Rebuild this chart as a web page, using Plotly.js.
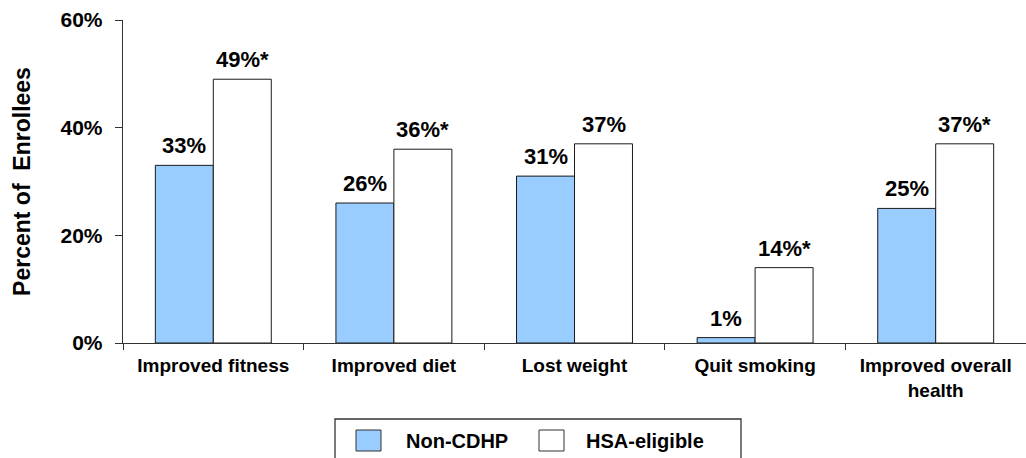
<!DOCTYPE html>
<html>
<head>
<meta charset="utf-8">
<script src="https://cdn.plot.ly/plotly-3.0.1.min.js"></script>
<style>
  html, body { margin: 0; padding: 0; background: #fff; }
  #chart { width: 1026px; height: 458px; }
</style>
</head>
<body>
<div id="chart"></div>
<script>
// Health behaviour changes reported by enrollees, by plan type
const categories = ['Improved fitness', 'Improved diet', 'Lost weight', 'Quit smoking', 'Improved overall<br>health'];
const nonCdhp = [33, 26, 31, 1, 25];
const hsaEligible = [49, 36, 37, 14, 37];
// '*' marks a statistically significant difference from Non-CDHP
const hsaSignificance = ['*', '*', '', '*', '*'];
const seriesNames = ['Non-CDHP', 'HSA-eligible'];
const yTickValues = [0, 20, 40, 60];
const yTickLabels = ['0%', '20%', '40%', '60%'];

const FONT = 'Liberation Sans, Arial, sans-serif';
const BLUE = '#99CCFF';
const EDGE = '#1a1a1a';

const traces = [
  {
    type: 'bar', name: seriesNames[0], x: categories, y: nonCdhp,
    marker: { color: BLUE, line: { color: EDGE, width: 1 } },
    hoverinfo: 'skip'
  },
  {
    type: 'bar', name: seriesNames[1], x: categories, y: hsaEligible,
    marker: { color: '#ffffff', line: { color: EDGE, width: 1 } },
    hoverinfo: 'skip'
  }
];

// Plot area spans x 123..1026 px and y 20..343 px
const plotLeft = 123, plotRight = 1026, plotTop = 20, plotBottom = 343;
const px = v => (v - plotLeft) / (plotRight - plotLeft);
const py = v => (plotBottom - v) / (plotBottom - plotTop);

// Value labels sit a little above each bar; bars in a group are 58 px wide
const halfBar = 29;
const valueLabel = (cat, value, text, shift) => ({
  xref: 'x', yref: 'y', x: cat, y: value, xshift: shift, yshift: 5,
  xanchor: 'center', yanchor: 'bottom', showarrow: false,
  text: '<b>' + text + '</b>',
  font: { family: FONT, size: 22, color: '#000' }
});
const valueLabels = [].concat(
  categories.map((c, i) => valueLabel(c, nonCdhp[i], nonCdhp[i] + '%', -halfBar)),
  categories.map((c, i) => valueLabel(c, hsaEligible[i], hsaEligible[i] + '%' + hsaSignificance[i], halfBar))
);

// Boxed legend below the chart
const legendBox = { x0: 335, x1: 741, y0: 419, y1: 480 };
const swatches = [
  { x0: 356, x1: 381, y0: 430, y1: 451, fill: BLUE, textX: 404 },
  { x0: 539, x1: 564, y0: 430, y1: 451, fill: '#ffffff', textX: 584 }
];

const shapes = [
  {
    type: 'rect', xref: 'paper', yref: 'paper', layer: 'above',
    x0: px(legendBox.x0), x1: px(legendBox.x1), y0: py(legendBox.y0), y1: py(legendBox.y1),
    line: { color: '#333', width: 1.3 }, fillcolor: 'rgba(0,0,0,0)'
  }
].concat(swatches.map(s => ({
  type: 'rect', xref: 'paper', yref: 'paper', layer: 'above',
  x0: px(s.x0), x1: px(s.x1), y0: py(s.y0), y1: py(s.y1),
  line: { color: '#333', width: 1 }, fillcolor: s.fill
})));

const legendLabels = swatches.map((s, i) => ({
  xref: 'paper', yref: 'paper', x: px(s.textX), y: py(441),
  xanchor: 'left', yanchor: 'middle', showarrow: false,
  text: '<b>' + seriesNames[i] + '</b>',
  font: { family: FONT, size: 20, color: '#000' }
}));

const layout = {
  width: 1026, height: 458,
  margin: { l: plotLeft, r: 1026 - plotRight, t: plotTop, b: 458 - plotBottom, pad: 0 },
  paper_bgcolor: '#fff', plot_bgcolor: '#fff',
  showlegend: false,
  barmode: 'group', bargap: 0.358, bargroupgap: 0,
  font: { family: FONT, color: '#000' },
  xaxis: {
    type: 'category', tickson: 'boundaries',
    ticks: 'outside', ticklen: 6, tickwidth: 1, tickcolor: '#333',
    showline: true, linecolor: '#333', linewidth: 1.3,
    showgrid: false, zeroline: false,
    tickfont: { family: FONT, size: 19, color: '#000', weight: 'bold' },
    ticklabelstandoff: 5,
    fixedrange: true
  },
  yaxis: {
    range: [0, 60], tickmode: 'array', tickvals: yTickValues, ticktext: yTickLabels,
    ticks: 'outside', ticklen: 7, tickwidth: 1, tickcolor: '#333',
    showline: true, linecolor: '#333', linewidth: 1.3,
    showgrid: false, zeroline: false,
    tickfont: { family: FONT, size: 21, color: '#000', weight: 'bold' },
    ticklabelstandoff: 8,
    title: {
      text: '<b>Percent of&nbsp; Enrollees</b>', standoff: 23,
      font: { family: FONT, size: 23, color: '#000' }
    },
    fixedrange: true
  },
  shapes: shapes,
  annotations: valueLabels.concat(legendLabels)
};

Plotly.newPlot('chart', traces, layout, { displayModeBar: false, staticPlot: true });
</script>
</body>
</html>
